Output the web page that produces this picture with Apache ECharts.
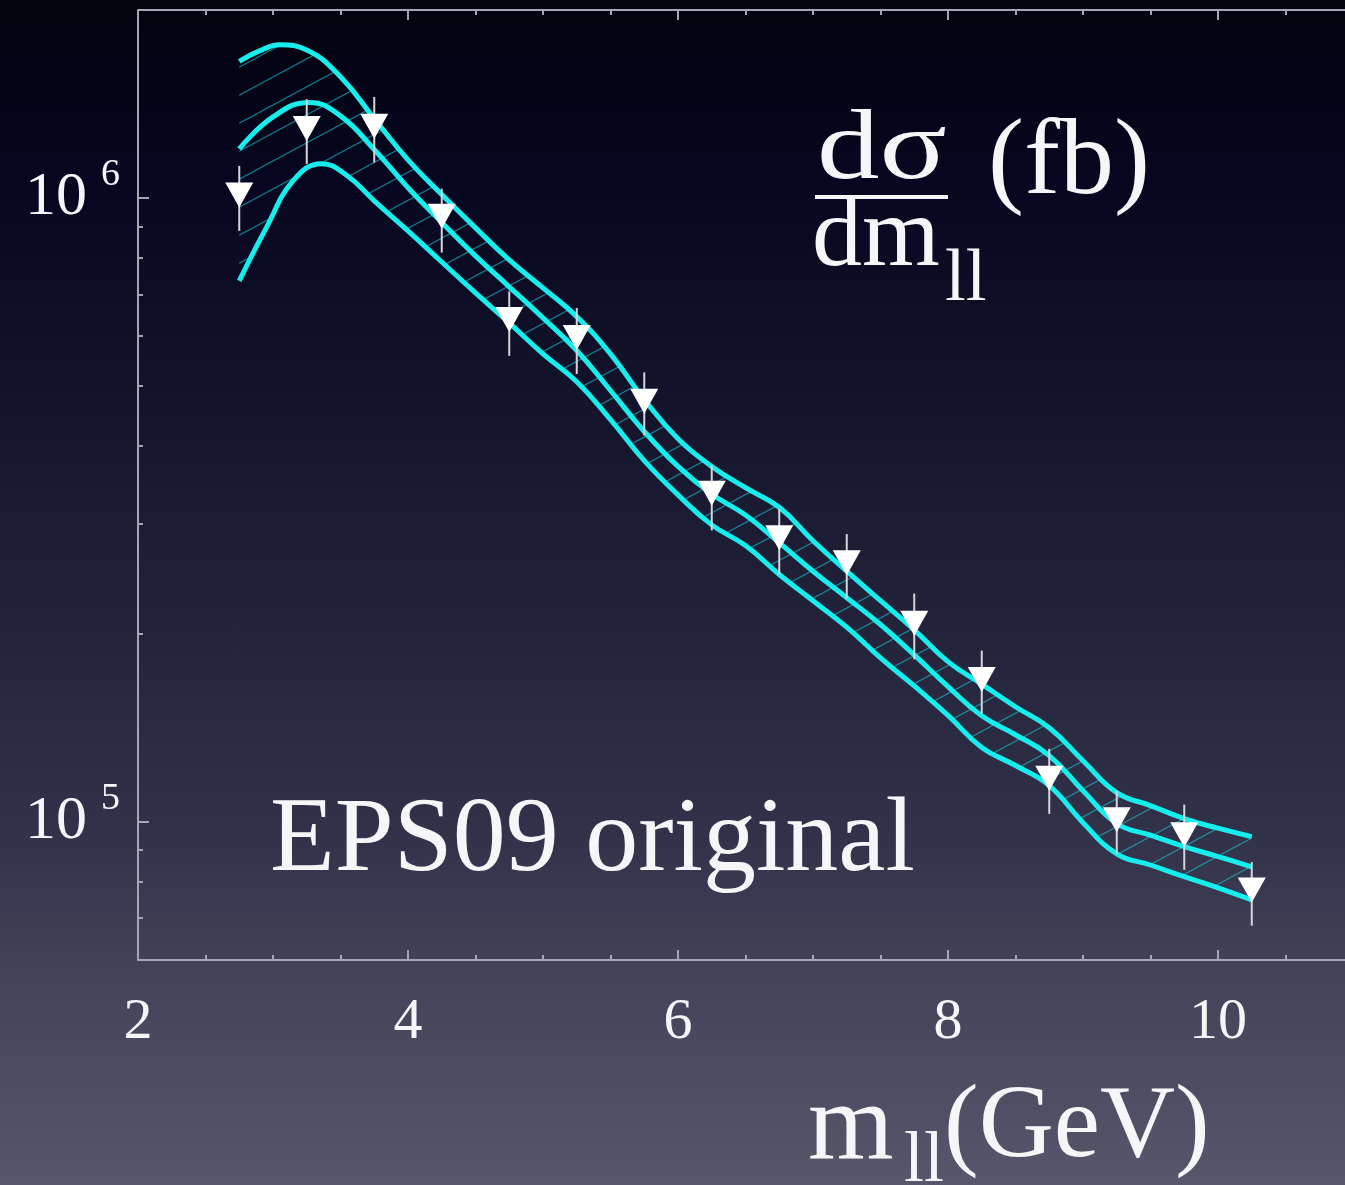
<!DOCTYPE html>
<html>
<head>
<meta charset="utf-8">
<script src="https://cdn.jsdelivr.net/npm/echarts@6/dist/echarts.min.js"></script>
<style>
html,body{margin:0;padding:0;background:#1a1a2e;}
#chart{width:1345px;height:1185px;}
</style>
</head>
<body>
<div id="chart"></div>
<script>
// ---- data ----
const upperMass = [2.75, 2.9, 3.05, 3.25, 3.5, 3.75, 4.0, 4.25, 4.5, 4.75, 5.0, 5.25, 5.5, 5.75, 6.0, 6.25, 6.5, 6.75, 7.0, 7.25, 7.5, 7.75, 8.0, 8.25, 8.5, 8.75, 9.0, 9.25, 9.5, 9.75, 10.0, 10.25];
const upperBand = [1.655e6, 1.720e6, 1.759e6, 1.726e6, 1.563e6, 1.339e6, 1.150e6, 1.012e6, 8.95e5, 7.95e5, 7.17e5, 6.45e5, 5.62e5, 4.75e5, 4.11e5, 3.71e5, 3.43e5, 3.19e5, 2.82e5, 2.52e5, 2.26e5, 2.03e5, 1.805e5, 1.661e5, 1.528e5, 1.414e5, 1.252e5, 1.113e5, 1.061e5, 1.011e5, 9.76e4, 9.46e4];

const centralMass = [2.75, 3.0, 3.27, 3.5, 3.75, 4.0, 4.25, 4.5, 4.75, 5.0, 5.25, 5.5, 5.75, 6.0, 6.25, 6.5, 6.75, 7.0, 7.25, 7.5, 7.75, 8.0, 8.25, 8.5, 8.75, 9.0, 9.25, 9.5, 9.75, 10.0, 10.25];
const centralCurve = [1.198e6, 1.348e6, 1.422e6, 1.353e6, 1.195e6, 1.038e6, 9.13e5, 8.07e5, 7.20e5, 6.42e5, 5.69e5, 4.91e5, 4.22e5, 3.71e5, 3.35e5, 3.10e5, 2.80e5, 2.52e5, 2.285e5, 2.07e5, 1.85e5, 1.646e5, 1.478e5, 1.378e5, 1.276e5, 1.121e5, 9.93e4, 9.51e4, 9.12e4, 8.79e4, 8.46e4];

const lowerMass = [2.75, 2.95, 3.15, 3.36, 3.55, 3.75, 4.0, 4.25, 4.5, 4.75, 5.0, 5.25, 5.5, 5.75, 6.0, 6.25, 6.5, 6.75, 7.0, 7.25, 7.5, 7.75, 8.0, 8.25, 8.5, 8.75, 9.0, 9.25, 9.5, 9.75, 10.0, 10.25];
const lowerBand = [7.36e5, 8.95e5, 1.065e6, 1.134e6, 1.085e6, 9.89e5, 8.85e5, 7.89e5, 7.04e5, 6.30e5, 5.62e5, 5.07e5, 4.41e5, 3.79e5, 3.34e5, 2.99e5, 2.77e5, 2.49e5, 2.26e5, 2.05e5, 1.83e5, 1.65e5, 1.48e5, 1.315e5, 1.23e5, 1.142e5, 9.96e4, 8.88e4, 8.52e4, 8.16e4, 7.83e4, 7.49e4];

const pointMass = [2.75, 3.25, 3.75, 4.25, 4.75, 5.25, 5.75, 6.25, 6.75, 7.25, 7.75, 8.25, 8.75, 9.25, 9.75, 10.25];
const pointValue = [1.010e6, 1.292e6, 1.302e6, 9.34e5, 6.38e5, 5.97e5, 4.72e5, 3.36e5, 2.85e5, 2.60e5, 2.08e5, 1.69e5, 1.174e5, 1.007e5, 9.53e4, 7.77e4];
const pointErrLow = [8.85e5, 1.133e6, 1.139e6, 8.17e5, 5.58e5, 5.22e5, 4.16e5, 2.93e5, 2.49e5, 2.28e5, 1.82e5, 1.49e5, 1.029e5, 8.88e4, 8.37e4, 6.81e4];
const pointErrHigh = [1.125e6, 1.439e6, 1.451e6, 1.034e6, 7.08e5, 6.66e5, 5.25e5, 3.72e5, 3.17e5, 2.89e5, 2.32e5, 1.88e5, 1.308e5, 1.121e5, 1.065e5, 8.61e4];

const xMin = 2, xMax = 12, xInterval = 2;
const yMin = 6e4, yMax = 2e6;
const yMajorTicks = [1e5, 1e6];
const yMinorTicks = [7e4, 8e4, 9e4, 2e5, 3e5, 4e5, 5e5, 6e5, 7e5, 8e5, 9e5];

// ---- styles ----
const CYAN = '#16eeee';
const AXIS = '#a4a6b4';
const TXT = '#f6f6f8';
const SERIF = '"Liberation Serif", "DejaVu Serif", serif';
const BG_STOPS = [
  { offset: 0, color: '#03030e' },
  { offset: 0.15, color: '#060620' },
  { offset: 0.35, color: '#14142c' },
  { offset: 0.5, color: '#202039' },
  { offset: 0.7, color: '#31324a' },
  { offset: 0.82, color: '#424358' },
  { offset: 1, color: '#56576b' }
];

// hatch pattern for the uncertainty band
const hatch = document.createElement('canvas');
hatch.width = 52; hatch.height = 28;
(function () {
  const c = hatch.getContext('2d');
  c.strokeStyle = 'rgba(25,200,210,0.6)';
  c.lineWidth = 1.2;
  const W = hatch.width, H = hatch.height;
  [[-W, 0], [0, 0], [W, 0], [0, -H], [0, H]].forEach(function (o) {
    c.beginPath();
    c.moveTo(o[0], H + o[1]);
    c.lineTo(W + o[0], o[1]);
    c.stroke();
  });
})();

const pairs = (xs, ys) => xs.map((x, i) => [x, ys[i]]);
const L10 = v => Math.log10(v);

const chart = echarts.init(document.getElementById('chart'), null, { renderer: 'canvas' });

function txt(text, x, y, size, extra) {
  return Object.assign({
    type: 'text', x: x, y: y, z: 100,
    style: { text: text, fontSize: size, fontFamily: SERIF, fill: TXT, align: 'left', verticalAlign: 'middle', textAlign: 'left', textVerticalAlign: 'middle' }
  }, extra || {});
}

const xAxisBase = {
  type: 'value', min: xMin, max: xMax, interval: xInterval, z: 10,
  axisLine: { show: true, onZero: false, lineStyle: { color: AXIS, width: 2 } },
  axisTick: { show: true, inside: true, length: 10, lineStyle: { color: AXIS, width: 2 } },
  minorTick: { show: true, splitNumber: 4, length: 5, lineStyle: { color: AXIS, width: 2 } },
  splitLine: { show: false }
};

const option = {
  animation: false,
  backgroundColor: { type: 'linear', x: 0, y: 0, x2: 0, y2: 1, colorStops: BG_STOPS },
  grid: { left: 138, top: 10, right: -143, bottom: 225, containLabel: false, outerBoundsMode: 'none' },
  xAxis: [
    Object.assign({}, xAxisBase, {
      position: 'bottom',
      axisLabel: { show: true, margin: 34, color: TXT, fontSize: 58, fontFamily: SERIF }
    }),
    Object.assign({}, xAxisBase, {
      position: 'top',
      axisLabel: { show: false }
    })
  ],
  yAxis: [
    {
      type: 'log', logBase: 10, min: yMin, max: yMax, position: 'left', z: 10,
      axisLine: { show: true, onZero: false, lineStyle: { color: AXIS, width: 2 } },
      axisTick: { show: false },
      axisLabel: { show: false },
      splitLine: { show: false }
    },
    {
      type: 'value', min: L10(yMin), max: L10(yMax), position: 'left', z: 10,
      axisLine: { show: false },
      axisTick: { show: true, inside: true, length: 11, customValues: yMajorTicks.map(L10), lineStyle: { color: AXIS, width: 2 } },
      axisLabel: {
        show: true, margin: 18, customValues: yMajorTicks.map(L10),
        formatter: v => '{b|10}{s|' + Math.round(v) + '}',
        rich: {
          b: { fontSize: 62, lineHeight: 84, color: TXT, fontFamily: SERIF },
          s: { fontSize: 38, lineHeight: 38, color: TXT, fontFamily: SERIF, verticalAlign: 'top', padding: [0, 0, 0, 14] }
        }
      },
      splitLine: { show: false }
    },
    {
      type: 'value', min: L10(yMin), max: L10(yMax), position: 'left', z: 10,
      axisLine: { show: false },
      axisTick: { show: true, inside: true, length: 5, customValues: yMinorTicks.map(L10), lineStyle: { color: AXIS, width: 2 } },
      axisLabel: { show: false },
      splitLine: { show: false }
    }
  ],
  series: [
    {
      // upper edge of the band; hatch fills below it
      name: 'band-upper', type: 'line', data: pairs(upperMass, upperBand),
      smooth: 0.45, symbol: 'none', lineStyle: { color: CYAN, width: 5 },
      areaStyle: { origin: 'start', color: { image: hatch, repeat: 'repeat' }, opacity: 1 },
      z: 2
    },
    {
      // lower edge of the band; background-coloured fill below it closes the hatched band
      name: 'band-lower', type: 'line', data: pairs(lowerMass, lowerBand),
      smooth: 0.45, symbol: 'none', lineStyle: { color: CYAN, width: 5 },
      areaStyle: { origin: 'start', opacity: 1, color: { type: 'linear', x: 0, y: 0, x2: 0, y2: 1185, global: true, colorStops: BG_STOPS } },
      z: 3
    },
    {
      name: 'central', type: 'line', data: pairs(centralMass, centralCurve),
      smooth: 0.45, symbol: 'none', lineStyle: { color: CYAN, width: 5 }, z: 4
    },
    {
      name: 'errors', type: 'custom',
      data: pointMass.map((x, i) => [x, pointErrLow[i], pointErrHigh[i]]),
      encode: { x: 0, y: [1, 2] },
      renderItem: function (params, api) {
        const p1 = api.coord([api.value(0), api.value(1)]);
        const p2 = api.coord([api.value(0), api.value(2)]);
        return {
          type: 'line',
          shape: { x1: p1[0], y1: p1[1], x2: p2[0], y2: p2[1] },
          style: { stroke: '#d4d4dc', lineWidth: 2 }
        };
      },
      z: 5
    },
    {
      name: 'data', type: 'scatter', data: pairs(pointMass, pointValue),
      symbol: 'triangle', symbolRotate: 180, symbolSize: [28, 25],
      itemStyle: { color: '#ffffff', opacity: 1 }, z: 6
    }
  ],
  graphic: [
    txt('dσ', 882, 152, 100, { scaleX: 1.25, style: { text: 'dσ', fontSize: 100, fontFamily: SERIF, fill: TXT, align: 'center', verticalAlign: 'middle', textAlign: 'center', textVerticalAlign: 'middle' } }),
    { type: 'line', z: 100, shape: { x1: 815, y1: 197, x2: 948, y2: 197 }, style: { stroke: TXT, lineWidth: 4 } },
    txt('dm', 812, 239, 100),
    txt('ll', 945, 280, 75),
    txt('(fb)', 988, 165, 108),
    txt('EPS09 original', 270, 842, 106),
    txt('m', 808, 1129, 110),
    txt('ll', 904, 1162, 72),
    txt('(GeV)', 944, 1129, 104)
  ]
};

chart.setOption(option);
</script>
</body>
</html>
